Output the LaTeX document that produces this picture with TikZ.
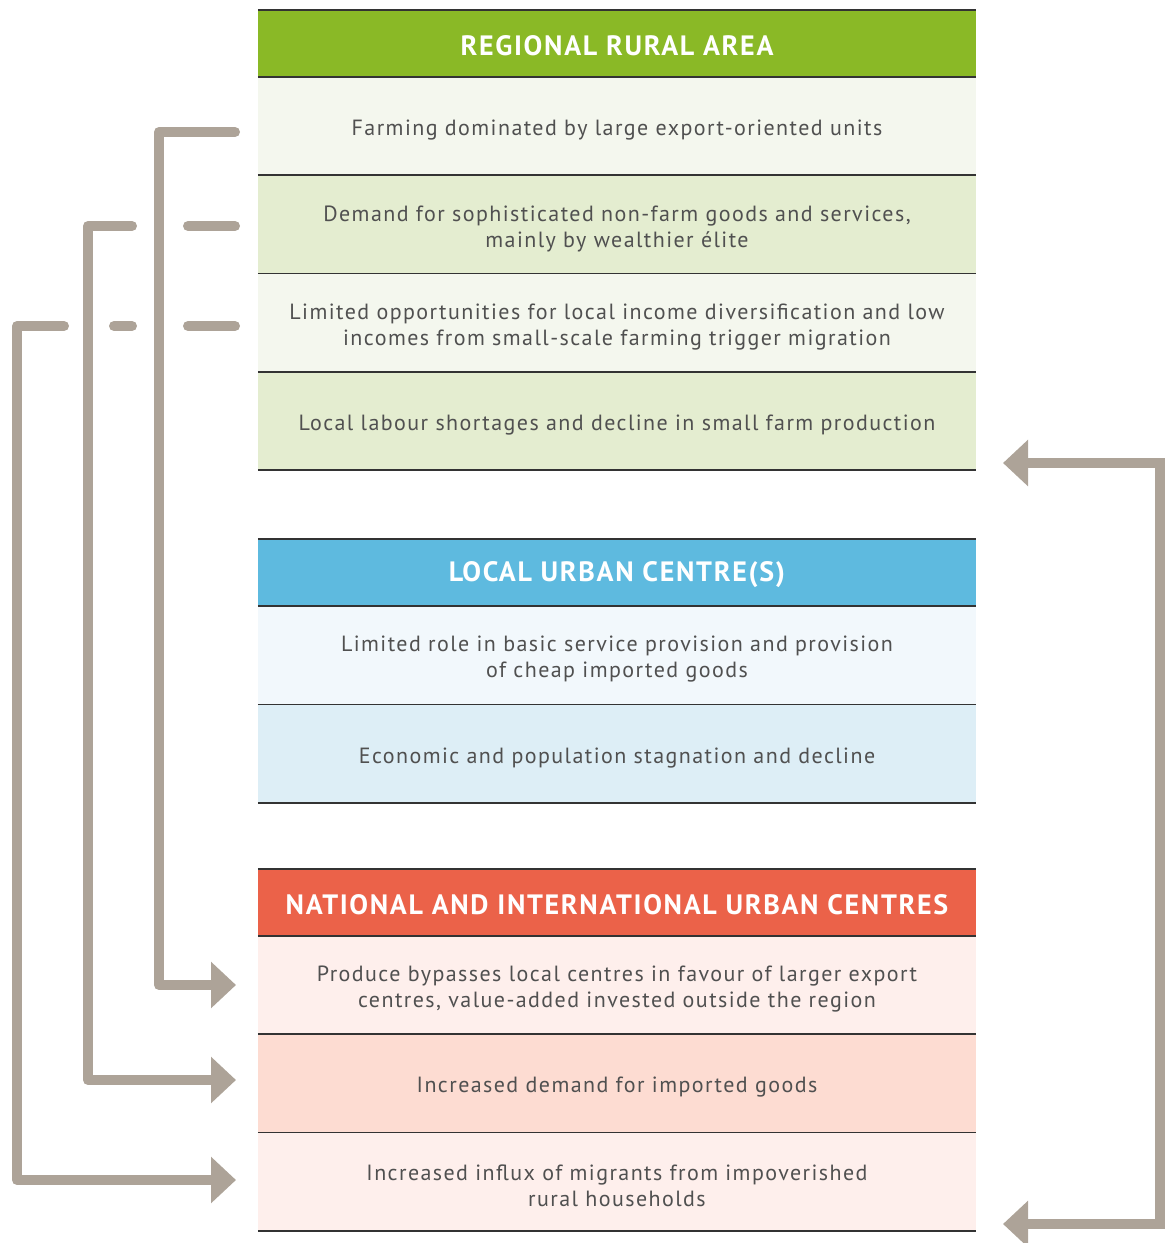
\documentclass[tikz,border=0pt]{standalone}
\usepackage{fontspec}
\setmainfont{PT Sans}
\newfontfamily\rowfont[LetterSpace=6.5]{PT Sans}
\newfontfamily\hdrfont[LetterSpace=6]{PT Sans Bold}
\usetikzlibrary{arrows.meta}
\definecolor{txt}{HTML}{505050}
\definecolor{conn}{HTML}{ADA398}
\definecolor{hgreen}{HTML}{8AB926}
\definecolor{gA}{HTML}{F4F7EE}
\definecolor{gB}{HTML}{E4EDD0}
\definecolor{hblue}{HTML}{5EBADF}
\definecolor{bA}{HTML}{F2F8FC}
\definecolor{bB}{HTML}{DDEEF6}
\definecolor{hred}{HTML}{EB6249}
\definecolor{rA}{HTML}{FEEFEC}
\definecolor{rB}{HTML}{FDDCD2}
\definecolor{rule}{HTML}{333333}
\tikzset{
  hdrbox/.style={minimum width=718pt, minimum height=67pt, inner sep=0pt},
  rowbox/.style={minimum width=718pt, minimum height=98pt, inner sep=0pt},
  hdrtext/.style={inner sep=0pt, text=white, font=\hdrfont\fontsize{28}{32}\selectfont},
  rowtext/.style={inner sep=0pt, text=txt, align=center, font=\rowfont\fontsize{22}{26}\selectfont},
  sep/.style={draw=rule, line width=1.5pt},
  connL/.style={draw=conn, line width=10pt, line cap=round, line join=round},
  connR/.style={draw=conn, line width=10pt, line join=miter},
  tip/.style={-{Triangle[length=25pt, width=45pt]}},
  tips/.style={{Triangle[length=25pt, width=45pt]}-{Triangle[length=25pt, width=45pt]}}
}
\begin{document}
\begin{tikzpicture}[x=1pt, y=-1pt]
\useasboundingbox (0,0) rectangle (1165,1243);
% ---------- regional rural area
\node[hdrbox, fill=hgreen] (h1) at (617,43.5) {};
\node[rowbox, fill=gA] (g1) at (617,126) {};
\node[rowbox, fill=gB] (g2) at (617,224.5) {};
\node[rowbox, fill=gA] (g3) at (617,323) {};
\node[rowbox, fill=gB] (g4) at (617,421) {};
% ---------- local urban centres
\node[hdrbox, fill=hblue] (h2) at (617,572.5) {};
\node[rowbox, fill=bA] (b1) at (617,655.5) {};
\node[rowbox, fill=bB] (b2) at (617,754) {};
% ---------- national and international
\node[hdrbox, fill=hred] (h3) at (617,902.5) {};
\node[rowbox, fill=rA] (r1) at (617,985) {};
\node[rowbox, fill=rB] (r2) at (617,1083.5) {};
\node[rowbox, fill=rA] (r3) at (617,1182) {};
% ---------- texts
\node[hdrtext] (h1t) at ([yshift=-2pt]h1.center) {REGIONAL RURAL AREA};
\node[hdrtext] (h2t) at ([yshift=-2pt]h2.center) {LOCAL URBAN CENTRE(S)};
\node[hdrtext] (h3t) at ([yshift=-2pt]h3.center) {NATIONAL AND INTERNATIONAL URBAN CENTRES};
\node[rowtext] (g1t) at ([yshift=-4pt]g1.center) {Farming dominated by large export-oriented units};
\node[rowtext] (g2t) at ([yshift=-4pt]g2.center) {Demand for sophisticated non-farm goods and services,\\mainly by wealthier élite};
\node[rowtext] (g3t) at ([yshift=-4pt]g3.center) {Limited opportunities for local income diversification and low\\incomes from small-scale farming trigger migration};
\node[rowtext] (g4t) at ([yshift=-4pt]g4.center) {Local labour shortages and decline in small farm production};
\node[rowtext] (b1t) at ([yshift=-4pt]b1.center) {Limited role in basic service provision and provision\\of cheap imported goods};
\node[rowtext] (b2t) at ([yshift=-4pt]b2.center) {Economic and population stagnation and decline};
\node[rowtext] (r1t) at ([yshift=-4pt]r1.center) {Produce bypasses local centres in favour of larger export\\centres, value-added invested outside the region};
\node[rowtext] (r2t) at ([yshift=-4pt]r2.center) {Increased demand for imported goods};
\node[rowtext] (r3t) at ([yshift=-4pt]r3.center) {Increased influx of migrants from impoverished\\rural households};
% ---------- rules
\foreach \n in {h1,h2,h3}{
  \draw[sep] (\n.north west) -- (\n.north east);
  \draw[sep] (\n.south west) -- (\n.south east);
}
\foreach \n in {g1,g2,g3,g4,b1,b2,r1,r2,r3}{
  \draw[sep] (\n.south west) -- (\n.south east);
}
% ---------- left connectors
\coordinate (aS) at (235,132);
\coordinate (aC) at (159,132);
\coordinate (bS) at (235,226);
\coordinate (bC) at (88,226);
\coordinate (cS) at (235,326);
\coordinate (cC) at (17,326);
\coordinate (aE) at (236,985);
\coordinate (bE) at (236,1080);
\coordinate (cE) at (236,1180);
\draw[connL, tip] (aS) -- (aC) |- (aE);
\draw[connL] (bS) -- (188,226);
\draw[connL, tip] (132,226) -- (bC) |- (bE);
\draw[connL] (cS) -- (188,326);
\draw[connL] (132,326) -- (114,326);
\draw[connL, tip] (64,326) -- (cC) |- (cE);
% ---------- right connector
\coordinate (dS) at (1003,463);
\coordinate (dC) at (1160,463);
\coordinate (dE) at (1003,1224);
\draw[connR, tips] (dS) -- (dC) |- (dE);
\end{tikzpicture}
\end{document}
